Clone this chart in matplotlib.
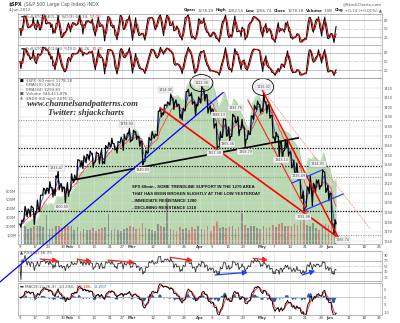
import numpy as np
import pandas as pd
import matplotlib
matplotlib.use('Agg')
import matplotlib.pyplot as plt
from matplotlib.patches import Ellipse
from matplotlib.lines import Line2D

# ---------------- data (daily, Jan 9 .. Jun 4 2012) ----------------
spx_high = [1281.99, 1296.46, 1293.80, 1296.82, 1294.69, 1303.00, 1308.11, 1315.49, 1315.38, 1322.28,
            1316.00, 1328.30, 1333.47, 1320.07, 1316.33, 1321.41,
            1330.52, 1329.19, 1345.34, 1344.32, 1349.24, 1351.00, 1354.32, 1351.95, 1353.35, 1351.77,
            1355.87, 1359.98, 1363.40, 1367.76, 1362.21, 1364.24, 1368.92, 1371.94, 1373.09, 1378.04,
            1376.17, 1374.53, 1369.59, 1364.33, 1354.85, 1368.72, 1374.76, 1371.94, 1396.13, 1399.42,
            1402.63, 1405.88, 1414.00, 1409.75, 1407.85, 1402.89, 1399.18, 1416.58, 1419.15, 1415.22,
            1405.54, 1410.89,
            1422.38, 1419.04, 1413.38, 1401.60, 1397.45, 1383.01, 1374.71, 1388.13, 1387.57, 1379.66,
            1392.76, 1390.78, 1390.41, 1387.40, 1378.53, 1375.57, 1391.37, 1402.28, 1406.64, 1403.07,
            1415.32, 1405.82, 1403.07, 1391.51, 1373.91, 1369.58, 1363.73, 1365.88, 1365.20, 1353.39,
            1344.94, 1341.78, 1326.36, 1312.24, 1316.39, 1328.49, 1320.71, 1324.20, 1324.14, 1334.93,
            1332.42, 1318.36,
            1309.87, 1282.55]
spx_low = [1274.55, 1284.47, 1285.41, 1285.77, 1277.58, 1290.52, 1290.99, 1308.11, 1309.17, 1309.89,
           1306.06, 1307.65, 1313.60, 1311.72, 1300.49, 1306.69,
           1313.53, 1321.57, 1325.54, 1337.52, 1335.92, 1341.95, 1344.63, 1337.35, 1342.64, 1340.83,
           1340.80, 1341.22, 1357.24, 1358.11, 1355.53, 1352.28, 1363.46, 1354.92, 1365.97, 1363.81,
           1365.68, 1366.42, 1359.13, 1340.03, 1343.36, 1352.63, 1365.91, 1367.64, 1371.09, 1389.97,
           1392.78, 1401.47, 1402.43, 1397.68, 1400.64, 1388.73, 1386.87, 1397.11, 1411.95, 1403.24,
           1391.56, 1401.42,
           1404.46, 1406.65, 1394.00, 1392.92, 1378.24, 1357.38, 1358.59, 1368.71, 1369.85, 1365.38,
           1369.57, 1383.29, 1370.30, 1376.96, 1358.79, 1366.82, 1371.97, 1387.28, 1397.31, 1394.00,
           1395.73, 1393.92, 1388.71, 1367.96, 1363.94, 1347.75, 1343.13, 1354.58, 1348.89, 1336.61,
           1328.41, 1324.79, 1304.86, 1291.98, 1295.73, 1310.04, 1296.53, 1310.50, 1314.23, 1317.72,
           1311.13, 1302.22,
           1277.25, 1266.74]
spx_close = [1280.70, 1292.08, 1292.48, 1295.50, 1289.09, 1293.67, 1308.04, 1314.50, 1315.38, 1316.00,
             1314.65, 1326.06, 1318.43, 1316.33, 1313.01, 1312.41,
             1324.09, 1325.54, 1344.90, 1344.33, 1347.05, 1349.96, 1351.95, 1342.64, 1351.77, 1350.50,
             1343.23, 1358.04, 1361.23, 1362.21, 1357.66, 1363.46, 1365.74, 1367.59, 1372.18, 1365.68,
             1374.09, 1369.63, 1364.33, 1343.36, 1352.63, 1365.91, 1370.87, 1371.09, 1395.95, 1394.28,
             1402.60, 1404.17, 1409.75, 1405.52, 1402.89, 1392.78, 1397.11, 1416.51, 1412.52, 1405.54,
             1403.28, 1408.47,
             1419.04, 1413.38, 1398.96, 1398.08, 1382.20, 1358.59, 1368.71, 1387.57, 1370.26, 1369.57,
             1390.78, 1385.14, 1376.92, 1378.53, 1366.94, 1371.97, 1390.69, 1399.98, 1403.36, 1397.91,
             1405.82, 1402.31, 1391.57, 1369.10, 1369.58, 1363.72, 1354.58, 1357.99, 1353.39, 1338.35,
             1330.66, 1324.80, 1304.86, 1295.22, 1315.99, 1316.63, 1318.86, 1320.68, 1317.82, 1332.42,
             1313.32, 1310.33,
             1278.04, 1278.18]
prev_close = 1277.81
ndx_close = [2330, 2345, 2350, 2355, 2347, 2360, 2385, 2400, 2395, 2400, 2395, 2420, 2418, 2420, 2418, 2424,
             2440, 2450, 2485, 2490, 2497, 2510, 2520, 2505, 2525, 2530, 2525, 2550, 2545, 2555, 2555, 2565,
             2575, 2580, 2600, 2600,
             2615, 2605, 2585, 2550, 2570, 2600, 2610, 2610, 2660, 2665, 2680, 2685, 2710, 2705, 2710, 2695,
             2700, 2740, 2745, 2735, 2730, 2735,
             2755, 2755, 2730, 2745, 2720, 2675, 2690, 2720, 2690, 2660, 2700, 2690, 2665, 2650, 2625, 2615,
             2685, 2705, 2710, 2690,
             2695, 2700, 2680, 2630, 2630, 2620, 2610, 2605, 2600, 2580, 2570, 2555, 2510, 2480, 2530, 2525,
             2535, 2525, 2520, 2545, 2510, 2500,
             2460, 2470]
volume_m = [190, 210, 170, 180, 200, 210, 200, 190, 330, 170, 180, 200, 210, 180, 190, 200,
            200, 160, 190, 150, 170, 160, 160, 180, 150, 170, 180, 190, 340, 160, 170, 160, 150, 170, 180, 200,
            190, 170, 180, 240, 180, 170, 160, 150, 230, 200, 190, 520, 170, 160, 150, 190, 170, 180, 160, 190,
            170, 210,
            170, 160, 210, 150, 200, 260, 180, 190, 180, 190, 200, 170, 190, 350, 220, 180, 200, 210, 180, 170,
            200, 180, 190, 220, 190, 230, 240, 200, 200, 210, 230, 220, 260, 560, 220, 200, 240, 180, 160, 190,
            230, 220,
            300, 250]

holidays = ['2012-01-16', '2012-02-20', '2012-04-06', '2012-05-28']
tick_dates = ['2012-01-09', '2012-01-17', '2012-01-23', '2012-01-30', '2012-02-01', '2012-02-06',
              '2012-02-13', '2012-02-21', '2012-02-27', '2012-03-01', '2012-03-12', '2012-03-19',
              '2012-03-26', '2012-04-02', '2012-04-09', '2012-04-16', '2012-04-23', '2012-05-01',
              '2012-05-07', '2012-05-14', '2012-05-21', '2012-05-29', '2012-06-01', '2012-06-11',
              '2012-06-18', '2012-06-25']
tick_labels = ['9', '17', '23', '30', 'Feb', '6', '13', '21', '27', 'Mar', '12', '19', '26', 'Apr',
               '9', '16', '23', 'May', '7', '14', '21', '29', 'Jun', '11', '18', '25']
month_names = ['Feb', 'Mar', 'Apr', 'May', 'Jun']

support_levels = [1358.0, 1338.5, 1292.0]
minor_levels = [1387.0, 1327.5, 1266.74]

# ---------------- derived series ----------------
n = len(spx_close)
trade_days = pd.bdate_range('2012-01-09', '2012-06-29', freq='C', holidays=holidays)
day_index = {d.strftime('%Y-%m-%d'): i for i, d in enumerate(trade_days)}
tick_pos = [day_index[d] for d in tick_dates]

path_x, path_y = [0.0], [prev_close]
prev = prev_close
for i in range(n):
    up = spx_close[i] >= prev
    a, b = (spx_low[i], spx_high[i]) if up else (spx_high[i], spx_low[i])
    path_x += [i + 0.30, i + 0.62, i + 0.95]
    path_y += [a, b, spx_close[i]]
    prev = spx_close[i]
path_x = np.array(path_x)
s = pd.Series(path_y)
ema_fast = s.ewm(span=10 * 3 / 7, adjust=False).mean()
ema_slow = s.ewm(span=34 * 3 / 7, adjust=False).mean()


def full_sto(series, look, ks, ds):
    lo = series.rolling(look, min_periods=1).min()
    hi = series.rolling(look, min_periods=1).max()
    fast = 100 * (series - lo) / (hi - lo).replace(0, np.nan)
    fast = fast.fillna(50)
    k = fast.rolling(ks, min_periods=1).mean()
    d = k.rolling(ds, min_periods=1).mean()
    return k, d


sto1_k, sto1_d = full_sto(s, 4, 3, 3)
sto2_k, sto2_d = full_sto(s, 7, 3, 3)

delta = s.diff().fillna(0)
gain = delta.clip(lower=0).ewm(alpha=1 / 6, adjust=False).mean()
loss = (-delta.clip(upper=0)).ewm(alpha=1 / 6, adjust=False).mean()
rsi = (100 - 100 / (1 + gain / loss.replace(0, np.nan))).fillna(50)

macd = s.ewm(span=12 * 3 / 7, adjust=False).mean() - s.ewm(span=26 * 3 / 7, adjust=False).mean()
signal = macd.ewm(span=9 * 3 / 7, adjust=False).mean()
hist = macd - signal

# ---------------- layout ----------------
W, H = 400, 323
fig = plt.figure(figsize=(4.0, 3.23), dpi=100)
fig.patch.set_facecolor('white')
renderer = fig.canvas.get_renderer()
XL, XR = 18, 381.5
XLIM = (-0.65, 116.6)
GRID = '#dcdcdc'
SP = '#9a9a9a'
TXT = '#555555'


def add_ax(y0, y1, **kw):
    return fig.add_axes([XL / W, 1 - y1 / H, (XR - XL) / W, (y1 - y0) / H], **kw)


def style(ax, yticks, ylabels, ylim, fs=2.5):
    ax.set_xlim(*XLIM)
    ax.set_ylim(*ylim)
    for sp in ax.spines.values():
        sp.set_color(SP)
        sp.set_linewidth(0.5)
    ax.yaxis.tick_right()
    ax.set_yticks(yticks)
    ax.set_yticklabels(ylabels)
    ax.tick_params(axis='y', length=0, pad=1.5, labelsize=fs, labelcolor=TXT)
    ax.set_xticks(tick_pos)
    ax.tick_params(axis='x', length=0, labelbottom=False)
    for p in tick_pos:
        ax.axvline(p, color=GRID, lw=0.4, zorder=0)


def fig_text(x, y, t, **kw):
    kw.setdefault('va', 'center')
    return fig.text(x / W, 1 - y / H, t, **kw)


def text_row(x, y, parts, fs, gap=1.0, align='left'):
    """parts: list of (text, colour, weight); laid out left to right."""
    items = []
    for t, col, wt in parts:
        tx = fig_text(0, y, t, fontsize=fs, color=col, fontweight=wt)
        items.append((tx, tx.get_window_extent(renderer=renderer).width))
    total = sum(w for _, w in items) + gap * (len(items) - 1)
    cur = x if align == 'left' else x - total
    for tx, w in items:
        tx.set_x(cur / W)
        cur += w + gap


# header
text_row(9, 4.5, [('$SPX', '#222222', 'bold'), ('(S&P 500 Large Cap Index) INDX', TXT, 'normal')], 3.3, gap=1.5)
fig_text(9, 10.5, '4-Jun-2012', fontsize=3.0, color=TXT)
fig_text(382, 4.5, '@StockCharts.com', fontsize=3.0, color=TXT, ha='right')
text_row(382, 10.5, [('Open', '#222222', 'bold'), ('1278.29', TXT, 'normal'),
                     ('High', '#222222', 'bold'), ('1282.55', TXT, 'normal'),
                     ('Low', '#222222', 'bold'), ('1266.74', TXT, 'normal'),
                     ('Close', '#222222', 'bold'), ('1278.18', TXT, 'normal'),
                     ('Volume', '#222222', 'bold'), ('3.0B', TXT, 'normal'),
                     ('Chg', '#222222', 'bold'), ('+0.14 (+0.01%) \u25b2', TXT, 'normal')],
         2.9, gap=1.6, align='right')

# ---- stochastic panels ----
for (y0, y1, k, d, lab, val) in [(13.5, 44.5, sto1_k, sto1_d, 'Full STO %K(5,3) %D(3) 60.34,', '57.00'),
                                  (45.0, 77.5, sto2_k, sto2_d, 'Full STO %K(14,3) %D(3) 15.26,', '10.40')]:
    ax = add_ax(y0, y1)
    ylim = (-6, 103) if y0 < 20 else (-6.3, 108)
    style(ax, [20, 50, 80], ['20', '50', '80'], ylim)
    ax.axhline(80, color='#aaaaaa', lw=0.5)
    ax.axhline(20, color='#aaaaaa', lw=0.5)
    ax.axhline(50, color='#bbbbbb', lw=0.4, ls='-.')
    ax.plot(path_x, k, color='black', lw=0.75)
    ax.plot(path_x, d, color='#cc0000', lw=0.75)
    text_row(21, y0 + 3.5, [('\u25ac', '#333333', 'normal'), (lab, TXT, 'normal'), (val, '#dd3333', 'normal')],
             3.0, gap=1.2)

# ---- main panel ----
MY0, MY1 = 77.5, 244.0
ax_g = add_ax(MY0, MY1)
ax_g.set_xlim(*XLIM)
ax_g.set_ylim(2284, 2761)
ax_g.axis('off')
xg = np.arange(n) + 0.95
ax_g.fill_between(xg, ndx_close, 2284, color='#b9d9b1', lw=0)
ax_g.plot(xg, ndx_close, color='#9cc793', lw=0.4)

ax_v = add_ax(MY0, MY1)
ax_v.patch.set_alpha(0)
ax_v.set_xlim(*XLIM)
ax_v.set_ylim(0, 1892)
for sp in ax_v.spines.values():
    sp.set_visible(False)
ax_v.set_xticks([])
ax_v.set_yticks([100, 200, 300, 400, 500, 600])
ax_v.set_yticklabels(['100M', '200M', '300M', '400M', '500M', '600M'])
ax_v.tick_params(axis='y', length=0, pad=1.2, labelsize=2.6, labelcolor=TXT)
vcol = []
pc = prev_close
for c in spx_close:
    vcol.append('#d06a6a' if c < pc else '#7a7a7a')
    pc = c
ax_v.bar(np.arange(n) + 0.5, volume_m, width=0.55, color=vcol, alpha=0.75, lw=0)

ax = add_ax(MY0, MY1)
ax.patch.set_alpha(0)
style(ax, list(range(1260, 1421, 10)), [str(v) for v in range(1260, 1421, 10)], (1257.0, 1431.3))
for v in range(1260, 1421, 10):
    ax.axhline(v, color=GRID, lw=0.35, zorder=0)
ax.set_xticklabels(tick_labels)
ax.tick_params(axis='x', labelbottom=True, labelsize=2.8, labelcolor='#444444', pad=1.0)
for t in ax.get_xticklabels():
    if t.get_text() in month_names:
        t.set_fontweight('bold')

for lv in support_levels:
    ax.axhline(lv, color='black', lw=0.9, ls=(0, (1, 1.2)))
for lv in minor_levels:
    ax.axhline(lv, color='#999999', lw=0.8, ls=(0, (1, 1.2)))

ax.plot(path_x, ema_slow, color='#ff4040', lw=0.6)
ax.plot(path_x, ema_fast, color='#3050d0', lw=0.6)
ax.plot(path_x, path_y, color='black', lw=0.85)

# analyst trendlines (day index, price)
trend = [
    ((17.1, 89.7), (1324.0, 1368.0), 'black', 1.2, '-'),
    ((45.2, 104.2), (1399.4, 1260.1), '#ff0000', 1.2, '-'),
    ((78.1, 102.6), (1418.4, 1264.5), '#ff0000', 1.0, '-'),
    ((73.5, 92.6), (1407.7, 1290.4), '#ff2020', 0.8, '-'),
    ((78.4, 113.0), (1418.4, 1272.5), '#ff9090', 0.6, (0, (2, 1))),
    ((87.7, 97.4), (1320.8, 1334.4), '#2040ff', 0.9, '-'),
    ((91.9, 104.2), (1292.5, 1309.3), '#2040ff', 0.9, '-'),
]
for xs, ys, c, lw, ls in trend:
    ax.plot(xs, ys, color=c, lw=lw, ls=ls)
fig.add_artist(Line2D([-6.45, 65.5], [1217.3, 1415.6], transform=ax.transData, color='#0000ff', lw=0.9))

for (cx, cy, w, h) in [(58.5, 1425.5, 7.4, 17.8), (78.4, 1421.4, 6.8, 17.8)]:
    ax.add_patch(Ellipse((cx, cy), w, h, fill=False, ec='black', lw=0.6, clip_on=False))

price_labels = [(58.5, 1425.5, '1422.38'), (78.4, 1421.4, '1415.32'), (46.8, 1418.2, '1414.00'),
                (34.5, 1382.6, '1378.04'), (11.9, 1336.5, '1333.47'), (13.5, 1295.7, '1300.49'),
                (39.4, 1334.4, '1340.03'), (62.9, 1352.2, '1357.38'), (72.6, 1353.3, '1358.79'),
                (69.4, 1399.4, '1392.76'), (63.9, 1392.0, '1388.13'), (66.8, 1361.7, '1365.38'),
                (84.2, 1345.0, '1343.13'), (96.1, 1340.7, '1334.93'), (89.7, 1328.2, '1328.49'),
                (91.3, 1285.2, '1291.98'), (103.9, 1261.2, '1266.74')]
for x, y, t in price_labels:
    ax.text(x, y, t, fontsize=2.4, color='#444444', ha='center', va='center', zorder=6,
            bbox=dict(boxstyle='square,pad=0.2', fc='#f4f4f4', ec='#b8b8b8', lw=0.3))

# legend
leg = [('\u25a0', 'black', '$SPX (60 min) 1278.18'), ('\u2014', '#3050d0', 'EMA(10) 1269.24'),
       ('\u2014', '#ff4040', 'EMA(34) 1294.81'), ('\u25a0', '#666666', 'Volume 344,411,876'),
       ('\u25b2', '#5a9a50', '$NDX (60 min) 2476.11')]
for j, (sym, col, t) in enumerate(leg):
    yy = 80.5 + j * 4.6
    fig_text(20, yy, sym, fontsize=2.8, color=col)
    fig_text(25.5, yy, t, fontsize=2.9, color=TXT)

fig_text(83, 104, 'www.channelsandpatterns.com', fontsize=6.3, style='italic', fontweight='bold',
         family=['Liberation Serif', 'DejaVu Serif'], color='#333333', ha='center')
fig_text(86, 113, 'Twitter: shjackcharts', fontsize=6.3, style='italic', fontweight='bold',
         family=['Liberation Serif', 'DejaVu Serif'], color='#333333', ha='center')

notes = ['SPX 60min - SOME TRENDLINE SUPPORT IN THE 1270 AREA',
         'THAT HAS BEEN BROKEN SLIGHTLY AT THE LOW YESTERDAY',
         '- IMMEDIATE RESISTANCE 1280',
         '- DECLINING RESISTANCE 1318']
for j, t in enumerate(notes):
    fig_text(132, 187 + j * 7, t, fontsize=3.1, fontweight='bold',
             family=['Liberation Sans', 'DejaVu Sans'], color='#111111')

# ---- RSI panel ----
ax_r = add_ax(250.5, 281.0)
style(ax_r, [10, 30, 50, 70, 90], ['10', '30', '50', '70', '90'], (-4.5, 106.4))
ax_r.axhline(70, color='#999999', lw=0.5)
ax_r.axhline(30, color='#999999', lw=0.5)
ax_r.axhline(50, color='#bbbbbb', lw=0.4, ls='-.')
ax_r.fill_between(path_x, rsi, 30, where=rsi < 30, color='#8b1a1a', lw=0)
ax_r.plot(path_x, rsi, color='#222222', lw=0.55)
arrows = [((6.45, 12.3), (75.5, 69.3), '#ff2020'), ((18.4, 23.2), (75.5, 65.6), '#ff2020'),
          ((28.4, 37.1), (71.8, 62.0), '#ff2020'), ((48.4, 55.8), (81.6, 69.3), '#ff2020'),
          ((75.2, 80.0), (78.0, 71.8), '#ff2020'), ((62.9, 73.5), (17.3, 27.1), '#2040ff'),
          ((91.0, 95.2), (17.3, 32.9), '#2040ff')]
for xs, ys, c in arrows:
    ax_r.annotate('', xy=(xs[1], ys[1]), xytext=(xs[0], ys[0]),
                  arrowprops=dict(arrowstyle='-|>,head_length=0.6,head_width=0.3', color=c, lw=0.9,
                                  mutation_scale=5, shrinkA=0, shrinkB=0))
text_row(20, 253.5, [('\u25b2', '#333333', 'normal'), ('RSI(14) 36.75', TXT, 'normal')], 3.0, gap=1.2)

# ---- MACD panel ----
ax_m = add_ax(283.0, 315.0)
style(ax_m, [-10, -5, 0, 5], ['-10', '-5', '0', '5'], (-11.5, 9.3))
ax_m.axhline(0, color='#aaaaaa', lw=0.4)
ax_m.fill_between(path_x, hist, 0, color='#285ca8', lw=0)
ax_m.plot(path_x, signal, color='#ff3030', lw=0.65)
ax_m.plot(path_x, macd, color='black', lw=0.65)
ax_m.set_xticklabels(tick_labels)
ax_m.tick_params(axis='x', labelbottom=True, labelsize=2.8, labelcolor='#444444', pad=1.0)
for t in ax_m.get_xticklabels():
    if t.get_text() in month_names:
        t.set_fontweight('bold')
text_row(20, 286.5, [('\u25ac', '#333333', 'normal'), ('MACD(12,26,9) -10.394,', TXT, 'normal'),
                     ('-10.186,', '#dd3333', 'normal'), ('-0.207', '#3355cc', 'normal')], 3.0, gap=1.2)

fig.savefig('out.png', dpi=100, facecolor='white')
